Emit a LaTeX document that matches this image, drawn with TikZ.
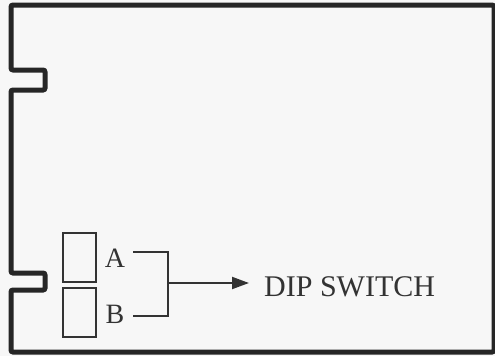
\documentclass[tikz,border=0pt]{standalone}
\usepackage{fontspec}
\setmainfont{Liberation Serif}
\usetikzlibrary{positioning,arrows.meta}

\begin{document}
\begin{tikzpicture}[x=1pt,y=-1pt,node distance=4pt,
  ink/.style={draw=black!80,line width=2pt},
  switchbox/.style={ink,minimum width=33pt,minimum height=49pt,inner sep=0pt},
  lbl/.style={text=black!80,font=\fontsize{28}{30}\selectfont,inner sep=0pt}]

  \fill[black!3] (0,0) rectangle (495,356);
  \useasboundingbox (0,0) rectangle (495,356);

  % board outline with two notches
  \draw[black!85,line width=5pt,rounded corners=2pt]
    (494,5) -- (11,5) -- (11,70) -- (45,70) -- (45,90) -- (11,90)
    -- (11,273) -- (45,273) -- (45,290) -- (11,290) -- (11,352) -- (494,352) -- cycle;

  \node[switchbox] (box_a) at (79.5,257.5) {};
  \node[switchbox] (box_b) [below=of box_a] {};
  \node[lbl] (lbl_a) at (115,258) {A};
  \node[lbl] (lbl_b) at (115,314) {B};

  \coordinate (br_a) at (133,252);
  \coordinate (br_b) at (133,316);
  \coordinate (br_m) at (168,283);
  \coordinate (tip) at (249,283);
  \node[lbl,font=\fontsize{30}{32}\selectfont,anchor=west] (dip) at (264,287) {DIP SWITCH};

  \draw[ink] (br_a) -| (br_m) |- (br_b);
  \draw[ink,-{Triangle[length=17pt,width=12pt]}] (br_m) -- (tip);
\end{tikzpicture}
\end{document}
